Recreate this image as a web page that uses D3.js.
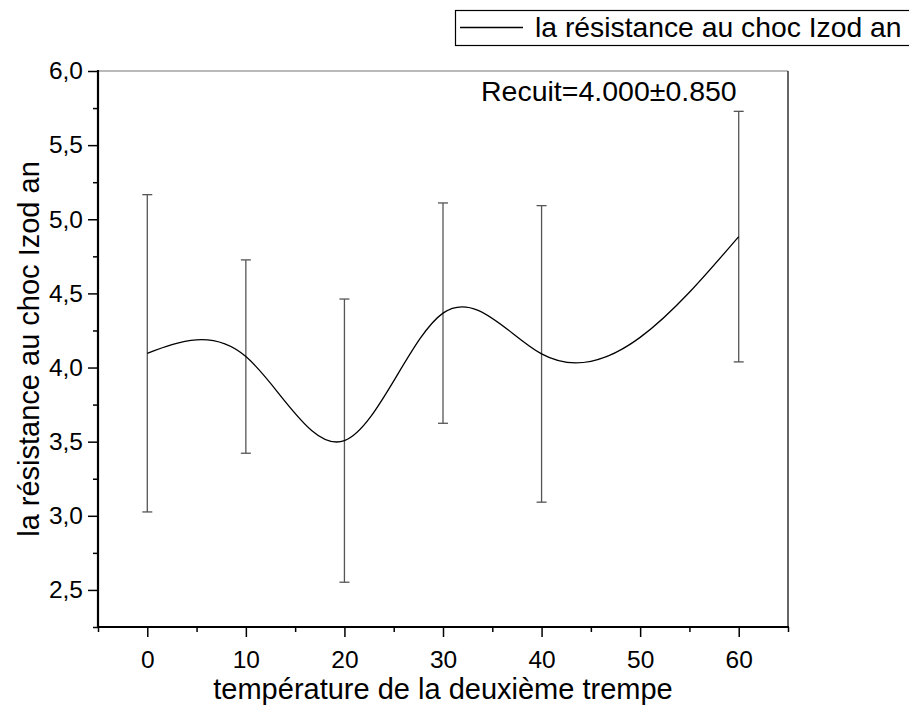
<!DOCTYPE html>
<html>
<head>
<meta charset="utf-8">
<script src="https://cdn.jsdelivr.net/npm/d3@7"></script>
<style>
  html, body { margin: 0; padding: 0; background: #fff; }
  svg { display: block; font-family: "Liberation Sans", Arial, sans-serif; }
</style>
</head>
<body>
<svg id="chart" width="909" height="715"></svg>
<script>
// ---- data ----
const temperatures = [0, 10, 20, 30, 40, 60];
const resistance   = [4.096, 4.074, 3.507, 4.367, 4.092, 4.883];
const errors       = [1.07, 0.652, 0.955, 0.743, 1.0, 0.845];
const xTickValues  = [0, 10, 20, 30, 40, 50, 60];
const xMinorTicks  = [-5, 5, 15, 25, 35, 45, 55, 65];
const yTickValues  = [2.5, 3.0, 3.5, 4.0, 4.5, 5.0, 5.5, 6.0];
const yMinorTicks  = [2.25, 2.75, 3.25, 3.75, 4.25, 4.75, 5.25, 5.75];
const seriesName   = "la résistance au choc Izod an";
const xTitle       = "température de la deuxième trempe";
const yTitle       = "la résistance au choc Izod an";
const annotation   = "Recuit=4.000±0.850";

// natural cubic spline in x, as a d3 curve
function CurveSplineX(context) { this._context = context; }
CurveSplineX.prototype = {
  areaStart() { this._line = 0; },
  areaEnd() { this._line = NaN; },
  lineStart() { this._x = []; this._y = []; },
  point(x, y) { this._x.push(+x); this._y.push(+y); },
  lineEnd() {
    const X = this._x, Y = this._y, n = X.length, c = this._context;
    if (!n) return;
    c.moveTo(X[0], Y[0]);
    if (n === 2) { c.lineTo(X[1], Y[1]); return; }
    const h = [], M = new Array(n).fill(0);
    for (let i = 0; i < n - 1; i++) h.push(X[i + 1] - X[i]);
    const a = [], b = [], cc = [], d = [];
    for (let i = 1; i < n - 1; i++) {
      a.push(h[i - 1]); b.push(2 * (h[i - 1] + h[i])); cc.push(h[i]);
      d.push(6 * ((Y[i + 1] - Y[i]) / h[i] - (Y[i] - Y[i - 1]) / h[i - 1]));
    }
    const m = b.length;
    for (let i = 1; i < m; i++) {
      const w = a[i] / b[i - 1];
      b[i] -= w * cc[i - 1]; d[i] -= w * d[i - 1];
    }
    const sol = new Array(m);
    sol[m - 1] = d[m - 1] / b[m - 1];
    for (let i = m - 2; i >= 0; i--) sol[i] = (d[i] - cc[i] * sol[i + 1]) / b[i];
    for (let i = 0; i < m; i++) M[i + 1] = sol[i];
    const slope = [];
    for (let i = 0; i < n - 1; i++)
      slope.push((Y[i + 1] - Y[i]) / h[i] - h[i] * (2 * M[i] + M[i + 1]) / 6);
    slope.push((Y[n - 1] - Y[n - 2]) / h[n - 2] + h[n - 2] * (M[n - 2] + 2 * M[n - 1]) / 6);
    for (let i = 0; i < n - 1; i++) {
      const hh = h[i] / 3;
      c.bezierCurveTo(X[i] + hh, Y[i] + hh * slope[i],
                      X[i + 1] - hh, Y[i + 1] - hh * slope[i + 1],
                      X[i + 1], Y[i + 1]);
    }
  }
};
const curveSplineX = context => new CurveSplineX(context);

const svg = d3.select("#chart");
const L = 98, R = 788, T = 71, B = 627;
const FONT = "Liberation Sans, Arial, sans-serif";

const x = d3.scaleLinear().domain([-5, 65]).range([L, R]);
const y = d3.scaleLinear().domain([2.25, 6.0]).range([B, T]);

const fmt = d => d3.format(".1f")(d).replace(".", ",");

// frame: top and right thin
svg.append("line").attr("x1", L).attr("x2", R).attr("y1", T).attr("y2", T)
  .attr("stroke", "#777").attr("stroke-width", 1.2);
svg.append("line").attr("x1", R).attr("x2", R).attr("y1", T).attr("y2", B)
  .attr("stroke", "#333").attr("stroke-width", 1.5);

// x axis
const gx = svg.append("g").attr("transform", `translate(0,${B})`);
gx.call(d3.axisBottom(x).tickValues(xTickValues).tickSize(10).tickPadding(14).tickFormat(d3.format("d")));
gx.append("g").call(d3.axisBottom(x).tickValues(xMinorTicks).tickSize(5).tickFormat(""));
gx.selectAll(".domain").remove();
gx.selectAll(".tick line").attr("stroke", "#000").attr("stroke-width", 1.5);
gx.selectAll(".tick text").attr("font-size", 24.5).attr("fill", "#000").attr("font-family", FONT);
svg.append("line").attr("x1", L - 1).attr("x2", R + 1).attr("y1", B).attr("y2", B)
  .attr("stroke", "#000").attr("stroke-width", 2.2);

// y axis
const gy = svg.append("g").attr("transform", `translate(${L},0)`);
gy.call(d3.axisLeft(y).tickValues(yTickValues).tickSize(10).tickPadding(5).tickFormat(fmt));
gy.append("g").call(d3.axisLeft(y).tickValues(yMinorTicks).tickSize(5).tickFormat(""));
gy.selectAll(".domain").remove();
gy.selectAll(".tick line").attr("stroke", "#000").attr("stroke-width", 1.5);
gy.selectAll(".tick text").attr("font-size", 24.5).attr("fill", "#000").attr("font-family", FONT);
svg.append("line").attr("x1", L).attr("x2", L).attr("y1", T - 1).attr("y2", B + 1)
  .attr("stroke", "#000").attr("stroke-width", 2.2);

// error bars
const data = temperatures.map((t, i) => ({ t, v: resistance[i], e: errors[i] }));
const eb = svg.append("g").attr("stroke", "#555").attr("stroke-width", 1.3);
data.forEach(d => {
  const cx = x(d.t);
  eb.append("line").attr("x1", cx).attr("x2", cx).attr("y1", y(d.v - d.e)).attr("y2", y(d.v + d.e));
  eb.append("line").attr("x1", cx - 5).attr("x2", cx + 5).attr("y1", y(d.v + d.e)).attr("y2", y(d.v + d.e));
  eb.append("line").attr("x1", cx - 5).attr("x2", cx + 5).attr("y1", y(d.v - d.e)).attr("y2", y(d.v - d.e));
});

// spline curve
const line = d3.line().x(d => x(d.t)).y(d => y(d.v)).curve(curveSplineX);
svg.append("path").datum(data).attr("d", line)
  .attr("fill", "none").attr("stroke", "#000").attr("stroke-width", 1.3);

// annotation
svg.append("text").attr("x", 481).attr("y", 101).attr("font-size", 28.5).attr("fill", "#000")
  .text(annotation);

// axis titles
svg.append("text").attr("x", 443).attr("y", 699).attr("text-anchor", "middle")
  .attr("font-size", 29).attr("fill", "#000").text(xTitle);
svg.append("text").attr("transform", `translate(39,349) rotate(-90)`).attr("text-anchor", "middle")
  .attr("font-size", 29).attr("fill", "#000").text(yTitle);

// legend
svg.append("rect").attr("x", 455.5).attr("y", 10.5).attr("width", 470).attr("height", 35)
  .attr("fill", "#fff").attr("stroke", "#000").attr("stroke-width", 1.2);
svg.append("line").attr("x1", 460).attr("x2", 523).attr("y1", 27.5).attr("y2", 27.5)
  .attr("stroke", "#000").attr("stroke-width", 1.3);
svg.append("text").attr("x", 535).attr("y", 37).attr("font-size", 28.3).attr("fill", "#000")
  .text(seriesName);
</script>
</body>
</html>
